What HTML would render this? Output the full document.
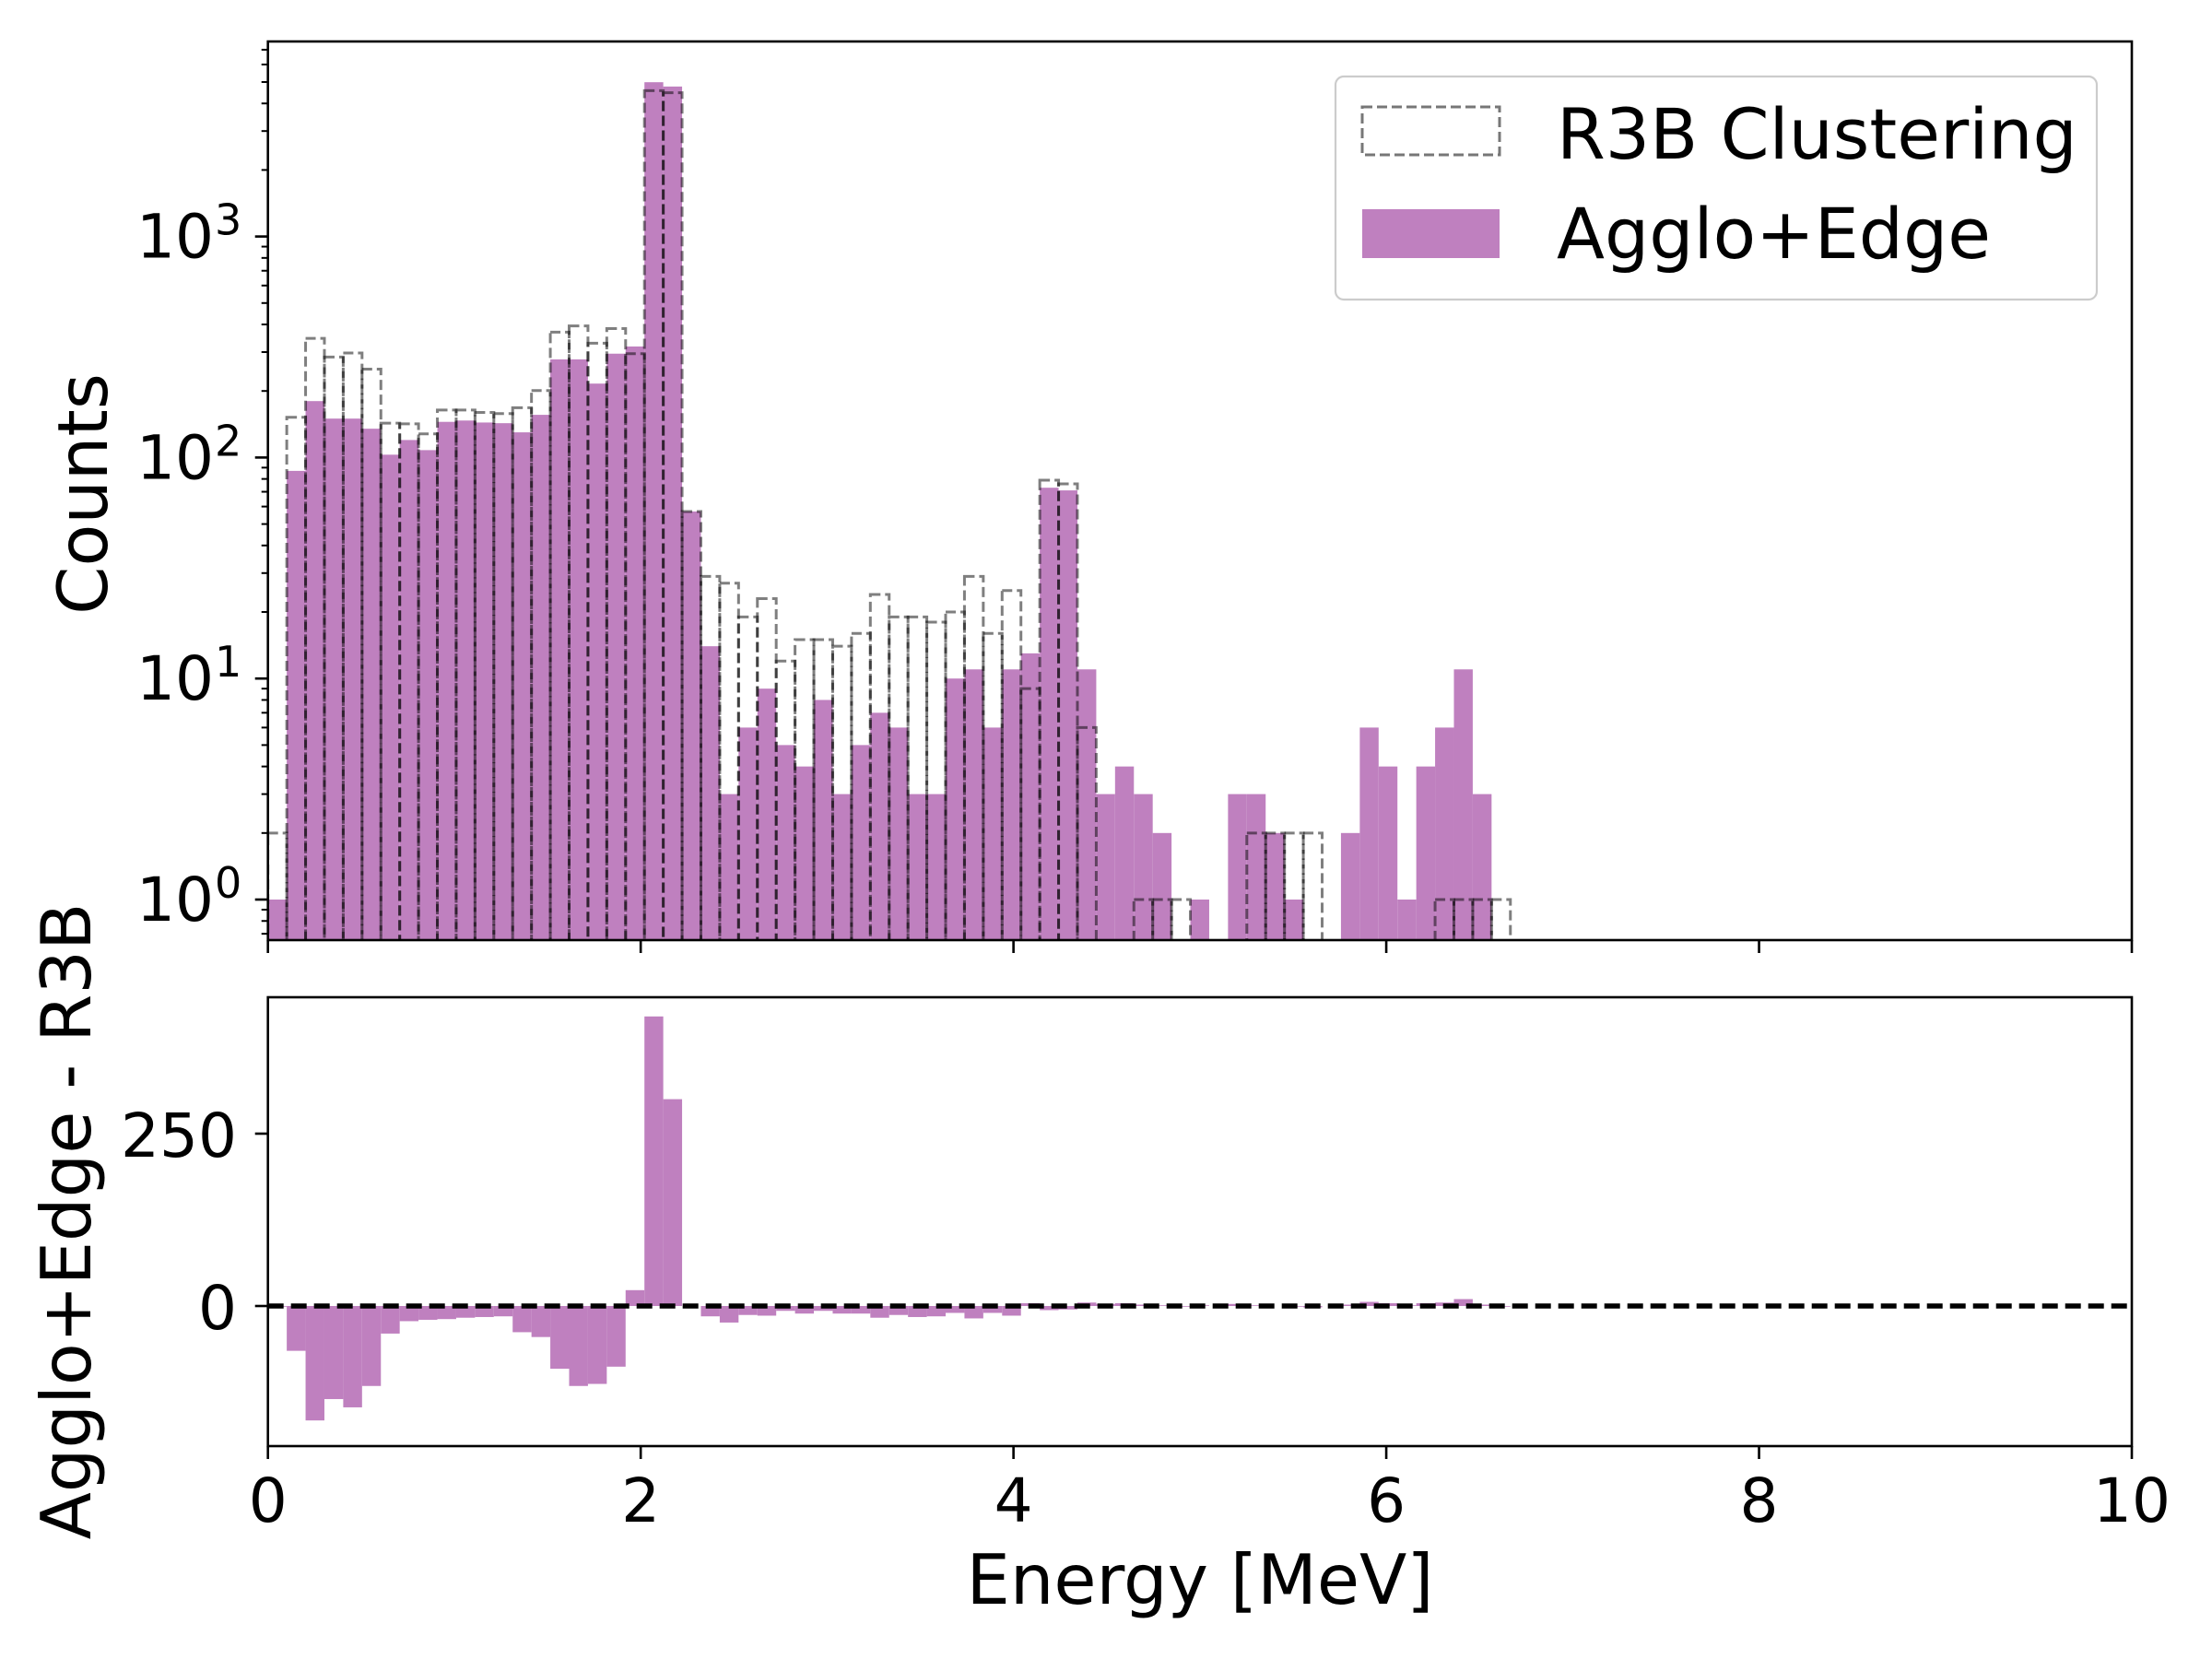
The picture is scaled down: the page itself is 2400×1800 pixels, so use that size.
<!DOCTYPE html>
<html><head><meta charset="utf-8"><style>
html,body{margin:0;padding:0;background:#fff}
svg{display:block}
text{font-family:"DejaVu Sans","Liberation Sans",sans-serif;fill:#000}
</style></head><body>
<svg id="chart" width="2400" height="1800" viewBox="0 0 2400 1800" xmlns="http://www.w3.org/2000/svg">
<rect x="0" y="0" width="2400" height="1800" fill="#fff"/>
<g id="top-bars"></g>
<g id="bot-bars"></g>
<g id="axes"></g>
<g id="legend">
  <rect x="1449" y="83" width="826" height="242" rx="9" fill="#fff" fill-opacity="0.8" stroke="#ccc" stroke-width="2.2"/>
  <rect x="1478" y="116" width="149" height="52" fill="none" stroke="#777" stroke-width="3" stroke-dasharray="11,5"/>
  <text x="1689" y="172" font-size="76">R3B Clustering</text>
  <rect x="1478" y="227" width="149" height="53" fill="#bf80bf"/>
  <text x="1689" y="280" font-size="76">Agglo+Edge</text>
</g>
<text x="116" y="536" font-size="75" text-anchor="middle" transform="rotate(-90 116 536)">Counts</text>
<text x="98" y="1325" font-size="75" text-anchor="middle" transform="rotate(-90 98 1325)">Agglo+Edge - R3B</text>
<text x="1302" y="1740" font-size="75" text-anchor="middle">Energy [MeV]</text>
</svg>
<script>
const binWidth = 0.101;
const aggloCounts = [1,87,180,150,150,135,103,120,108,145,147,144,143,130,156,278,278,216,295,318,
  4990,4770,57,14,3,6,9,5,4,8,3,5,7,6,3,3,10,11,6,11,13,73,71,11,3,4,3,2,0,1,
  0,3,3,2,1,0,0,2,6,4,1,4,6,11,3,0];
const r3bCounts = [2,152,346,285,297,251,143,142,128,164,164,160,158,168,201,369,394,329,383,295,
  4570,4470,57,29,27,19,23,12,15,15,14,16,24,19,19,18,20,29,16,25,9,79,76,6,0,0,1,1,1,0,
  0,0,2,2,2,2,0,0,0,0,0,0,1,1,1,1];
const xTicks = [0,2,4,6,8,10];
const yLogTicks = [0,1,2,3];
const yDiffTicks = [0,250];

const NS = "http://www.w3.org/2000/svg";
const X0 = 290.7, X1 = 2313;
const TOP_Y0 = 45, TOP_Y1 = 1020, BOT_Y0 = 1082, BOT_Y1 = 1569;
const Y_DEC0 = 976, DEC_PX = 239.8;
const LOG_MIN = -(TOP_Y1-Y_DEC0)/DEC_PX, LOG_MAX = (Y_DEC0-TOP_Y0)/DEC_PX;
const ZERO_Y = 1417, DIFF_PX = 0.748;
const DIFF_MIN = -(BOT_Y1-ZERO_Y)/DIFF_PX, DIFF_MAX = (ZERO_Y-BOT_Y0)/DIFF_PX;
function xs(v){ return X0 + (v-0)/(10-0)*(X1-X0); }
function ysLog(v){ return TOP_Y1 - (Math.log10(v)-LOG_MIN)/(LOG_MAX-LOG_MIN)*(TOP_Y1-TOP_Y0); }
function ysDiff(v){ return BOT_Y1 - (v-DIFF_MIN)/(DIFF_MAX-DIFF_MIN)*(BOT_Y1-BOT_Y0); }
function mk(tag, attrs, parent){ const e=document.createElementNS(NS,tag); for(const k in attrs) e.setAttribute(k,attrs[k]); parent.appendChild(e); return e; }

const topG = document.getElementById('top-bars');
const botG = document.getElementById('bot-bars');
const axG = document.getElementById('axes');

aggloCounts.forEach((c,i)=>{
  if(c<=0) return;
  const x=xs(i*binWidth), w=xs((i+1)*binWidth)-x, y=ysLog(c);
  const r=mk('rect',{x:x,y:y,width:w,height:TOP_Y1-y,fill:'#bf80bf'},topG);
  
  
});
r3bCounts.forEach((c,i)=>{
  if(c<=0) return;
  const x=xs(i*binWidth), w=xs((i+1)*binWidth)-x, y=ysLog(c);
  const r=mk('rect',{x:x,y:y,width:w,height:TOP_Y1-y+6,fill:'none',stroke:'#000','stroke-opacity':0.5,'stroke-width':3,'stroke-dasharray':'11,5'},topG);
  
  
});
const clip=mk('clipPath',{id:'topclip'},document.getElementById('chart'));
mk('rect',{x:X0,y:TOP_Y0,width:X1-X0,height:TOP_Y1-TOP_Y0},clip);
topG.setAttribute('clip-path','url(#topclip)');

aggloCounts.forEach((c,i)=>{
  const d = c - (r3bCounts[i]||0);
  if(d===0) return;
  const x=xs(i*binWidth), w=xs((i+1)*binWidth)-x;
  const y0=ysDiff(0), y=ysDiff(d);
  const r=mk('rect',{x:x,y:Math.min(y,y0),width:w,height:Math.abs(y-y0),fill:'#bf80bf'},botG);
  
  
});
const zl=mk('line',{x1:X0,x2:X1,y1:ysDiff(0),y2:ysDiff(0),stroke:'#000','stroke-width':5.5,'stroke-dasharray':'17,8'},botG);



[[TOP_Y0,TOP_Y1,'top-panel-frame'],[BOT_Y0,BOT_Y1,'bottom-panel-frame']].forEach(p=>{
  const f=mk('rect',{x:X0,y:p[0],width:X1-X0,height:p[1]-p[0],fill:'none',stroke:'#000','stroke-width':2.6},axG);
  
  
});
xTicks.forEach(t=>{
  const x=xs(t);
  [TOP_Y1,BOT_Y1].forEach(yb=>{ mk('line',{x1:x,x2:x,y1:yb,y2:yb+14,stroke:'#000','stroke-width':2.6},axG); });
  const tl=mk('text',{x:x,y:1651,'font-size':66,'text-anchor':'middle'},axG);
  tl.textContent=String(t);
  
  
});
yLogTicks.forEach(p=>{
  const y=ysLog(Math.pow(10,p));
  mk('line',{x1:X0-14,x2:X0,y1:y,y2:y,stroke:'#000','stroke-width':2.6},axG);
  const tl=mk('text',{x:232,y:y+23,'font-size':66,'text-anchor':'end'},axG);
  tl.textContent='10';
  
  
  const sup=mk('text',{x:233,y:y-2,'font-size':46,'text-anchor':'start'},axG);
  sup.textContent=String(p);
  
  
});
for(let p=-1;p<=3;p++){
  for(let m=2;m<=9;m++){
    const v=m*Math.pow(10,p);
    const ll=Math.log10(v);
    if(ll<LOG_MIN||ll>LOG_MAX) continue;
    const y=ysLog(v);
    mk('line',{x1:X0-7,x2:X0,y1:y,y2:y,stroke:'#000','stroke-width':2},axG);
  }
}
yDiffTicks.forEach(t=>{
  const y=ysDiff(t);
  mk('line',{x1:X0-14,x2:X0,y1:y,y2:y,stroke:'#000','stroke-width':2.6},axG);
  const tl=mk('text',{x:257,y:y+25,'font-size':66,'text-anchor':'end'},axG);
  tl.textContent=String(t);
  
  
});
</script>
</body></html>
